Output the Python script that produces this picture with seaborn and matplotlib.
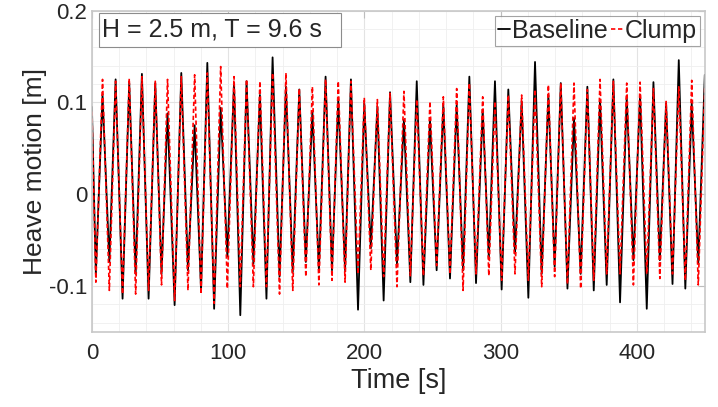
import numpy as np
import pandas as pd
import seaborn as sns
import matplotlib.pyplot as plt
from matplotlib.patches import Rectangle
from matplotlib.ticker import MultipleLocator

# =============================================================================
# Data (extrema, one per wave cycle)
# =============================================================================

start_time = 0.0
start_baseline = 0.095
start_clump = 0.090

trough_time = [
    2.9, 12.8, 22.5, 32.1, 41.6, 51.1, 60.7, 70.5, 80.1, 89.7,
    99.4, 108.9, 118.5, 128.1, 137.7, 147.4, 157.0, 166.6, 176.2, 185.8,
    195.3, 204.7, 214.1, 223.9, 233.7, 243.3, 253.0, 262.8, 272.4, 281.9,
    291.3, 300.7, 310.5, 320.3, 330.1, 339.6, 349.0, 358.7, 368.3, 377.8,
    387.6, 397.4, 407.2, 416.8, 426.1, 435.5, 445.0,
]
peak_time = [
    7.8, 17.4, 27.4, 36.7, 46.5, 55.5, 65.6, 75.4, 84.7, 94.5,
    104.3, 113.5, 123.3, 132.6, 142.4, 152.2, 161.8, 171.5, 180.8, 190.1,
    199.9, 209.5, 218.8, 229.0, 238.4, 248.1, 257.9, 267.7, 277.0, 286.8,
    295.8, 305.6, 315.4, 325.2, 335.0, 344.1, 353.8, 363.6, 372.9, 382.7,
    392.5, 402.3, 412.1, 421.4, 430.7, 440.2, 449.8,
]

baseline_trough = [
    -0.087, -0.074, -0.114, -0.087, -0.114, -0.087, -0.121, -0.083, -0.105, -0.125,
    -0.068, -0.132, -0.076, -0.114, -0.090, -0.085, -0.074, -0.083, -0.083, -0.083,
    -0.126, -0.059, -0.116, -0.076, -0.096, -0.099, -0.083, -0.092, -0.083, -0.097,
    -0.070, -0.104, -0.065, -0.113, -0.087, -0.079, -0.103, -0.087, -0.105, -0.099,
    -0.118, -0.072, -0.125, -0.072, -0.098, -0.103, -0.076,
]
baseline_peak = [
    0.108, 0.125, 0.121, 0.131, 0.121, 0.088, 0.132, 0.075, 0.143, 0.094,
    0.121, 0.123, 0.108, 0.149, 0.117, 0.114, 0.090, 0.128, 0.103, 0.125,
    0.099, 0.095, 0.111, 0.081, 0.123, 0.081, 0.097, 0.097, 0.128, 0.092,
    0.123, 0.114, 0.101, 0.144, 0.108, 0.121, 0.083, 0.117, 0.103, 0.125,
    0.105, 0.108, 0.122, 0.099, 0.146, 0.099, 0.130,
]

clump_trough = [
    -0.096, -0.105, -0.109, -0.109, -0.105, -0.099, -0.116, -0.105, -0.109, -0.119,
    -0.103, -0.101, -0.101, -0.101, -0.109, -0.105, -0.090, -0.099, -0.094, -0.096,
    -0.087, -0.083, -0.090, -0.101, -0.089, -0.089, -0.078, -0.087, -0.105, -0.087,
    -0.089, -0.094, -0.087, -0.094, -0.101, -0.090, -0.098, -0.103, -0.094, -0.087,
    -0.087, -0.099, -0.087, -0.092, -0.087, -0.094, -0.099,
]
clump_peak = [
    0.125, 0.123, 0.126, 0.128, 0.123, 0.125, 0.128, 0.130, 0.132, 0.139,
    0.128, 0.125, 0.123, 0.132, 0.132, 0.115, 0.117, 0.125, 0.123, 0.123,
    0.105, 0.103, 0.110, 0.112, 0.103, 0.101, 0.106, 0.115, 0.121, 0.106,
    0.101, 0.108, 0.108, 0.114, 0.119, 0.121, 0.121, 0.114, 0.125, 0.123,
    0.121, 0.122, 0.115, 0.101, 0.117, 0.124, 0.117,
]


def build_series(start_value, troughs, peaks, name):
    times = [start_time]
    values = [start_value]
    for tt, tv, pt, pv in zip(trough_time, troughs, peak_time, peaks):
        times += [tt, pt]
        values += [tv, pv]
    return pd.DataFrame({"Time": times, "Heave": values, "Case": name})


df_base = build_series(start_baseline, baseline_trough, baseline_peak, "Baseline")
df_clump = build_series(start_clump, clump_trough, clump_peak, "Clump")

# =============================================================================
# Plot
# =============================================================================

sns.set_style("white")
plt.rcParams["font.family"] = ["Liberation Sans", "DejaVu Sans"]

fig, ax = plt.subplots(figsize=(7.18, 4.07), dpi=100)
fig.subplots_adjust(left=0.128, right=0.982, top=0.974, bottom=0.185)

sns.lineplot(data=df_base, x="Time", y="Heave", color="black", linewidth=1.3,
             estimator=None, sort=False, label="Baseline", ax=ax)
sns.lineplot(data=df_clump, x="Time", y="Heave", color="red", linewidth=1.2,
             dashes=False, estimator=None, sort=False, label="Clump", ax=ax)

clump_line = ax.get_lines()[1]
clump_line.set_dashes((2.6, 1.6))

for line in ax.get_lines():
    line.set_solid_joinstyle("round")
    line.set_dash_joinstyle("round")

ax.set_xlim(0, 450)
ax.set_ylim(-0.15, 0.2)
ax.xaxis.set_major_locator(MultipleLocator(100))
ax.xaxis.set_minor_locator(MultipleLocator(20))
ax.yaxis.set_minor_locator(MultipleLocator(0.02))
ax.set_yticks([-0.1, 0, 0.1, 0.2])
ax.set_yticklabels(["-0.1", "0", "0.1", "0.2"])

ax.grid(which="major", color="#e3e3e3", linewidth=0.8)
ax.grid(which="minor", color="#efefef", linewidth=0.6)
ax.set_axisbelow(True)

ax.tick_params(which="both", direction="in", top=True, right=True,
               color="#bdbdbd", labelsize=16, labelcolor="#262626")
ax.tick_params(which="major", length=5)
ax.tick_params(which="minor", length=0)
ax.tick_params(axis="x", pad=8)

for spine in ax.spines.values():
    spine.set_color("#c8c8c8")
    spine.set_linewidth(1.2)

ax.set_xlabel("Time [s]", fontsize=19.5, color="#262626", labelpad=3)
ax.set_ylabel("Heave motion [m]", fontsize=19, color="#262626", labelpad=1)

# condition box
ax.add_patch(Rectangle((0.012, 0.887), 0.394, 0.106, transform=ax.transAxes,
                       facecolor="white", edgecolor="#8c8c8c", linewidth=0.8,
                       zorder=5))
ax.text(0.016, 0.94, "H = 2.5 m, T = 9.6 s", transform=ax.transAxes,
        fontsize=18, va="center", ha="left", zorder=6)

leg = ax.legend(loc="upper right", ncol=2, fontsize=18, frameon=True,
                fancybox=False, handlelength=0.5, handletextpad=0.05,
                columnspacing=0.15, borderpad=0.12, borderaxespad=0.2)
leg.get_frame().set_edgecolor("#8c8c8c")
leg.get_frame().set_linewidth(0.8)
leg.get_lines()[1].set_dashes((2.6, 1.6))

plt.savefig("out.png", dpi=100)
